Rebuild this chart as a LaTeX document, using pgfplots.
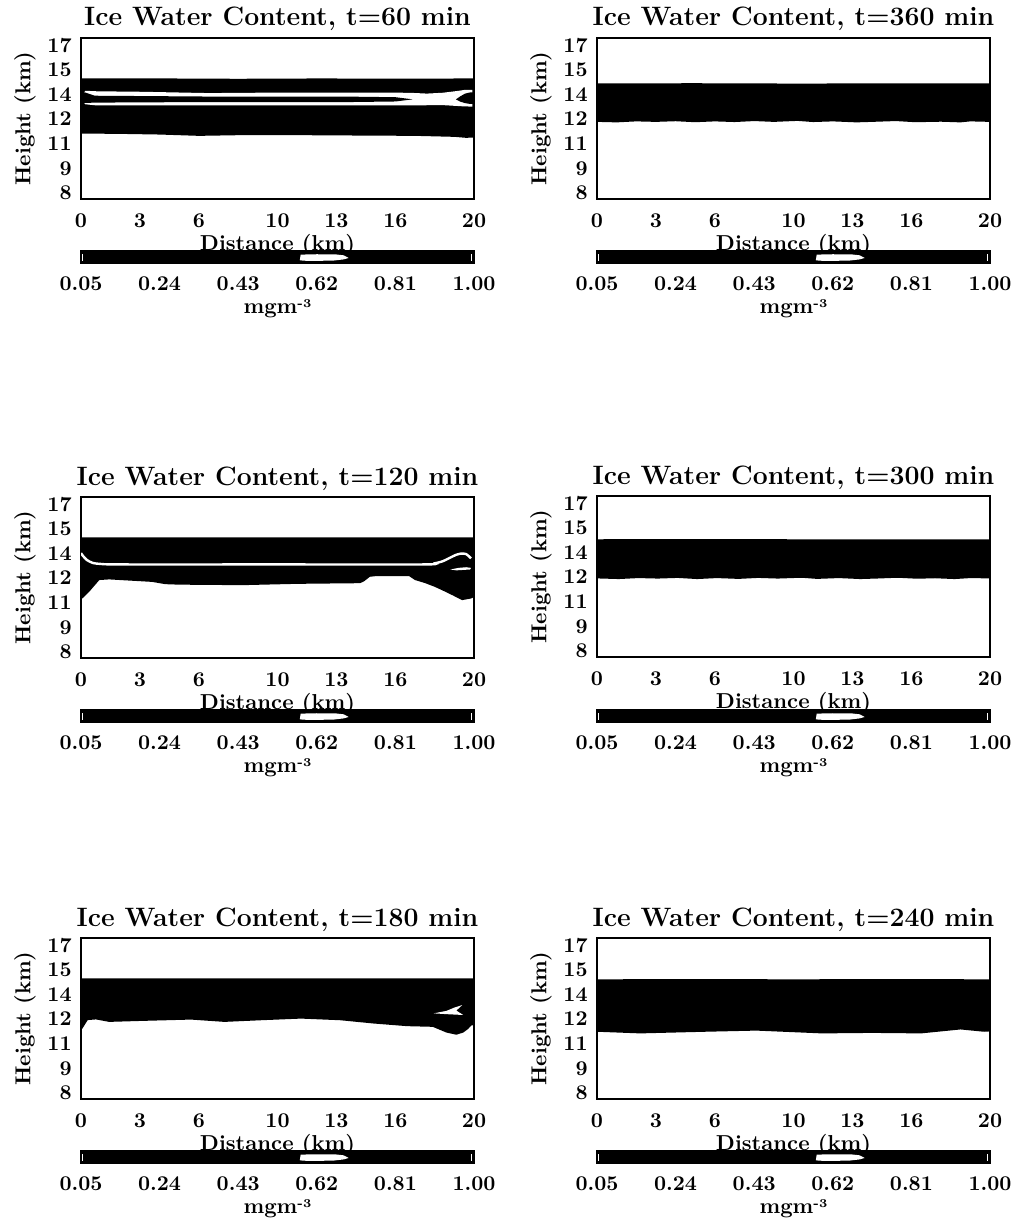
\documentclass[border=0pt]{standalone}
\usepackage{pgfplots}
\pgfplotsset{compat=1.18}

\pgfplotsset{
  iwc/.style={
    scale only axis, width=196.5pt, height=80.5pt, anchor=north west,
    xmin=0, xmax=20, ymin=7.64, ymax=17.43,
    xtick={0,3,6,10,13,16,20},
    xticklabels={\textbf{0},\textbf{3},\textbf{6},\textbf{10},\textbf{13},\textbf{16},\textbf{20}},
    ytick={8,9.5,11,12.5,14,15.5,17},
    yticklabels={\textbf{8},\textbf{9},\textbf{11},\textbf{12},\textbf{14},\textbf{15},\textbf{17}},
    major tick length=0pt,
    axis line style={line width=0.9pt},
    tick label style={font=\fontsize{10.5}{12}\selectfont\bfseries},
    xticklabel style={anchor=base, yshift=-14pt, inner sep=1pt},
    yticklabel style={anchor=east, xshift=-4.5pt, inner sep=0pt},
    xlabel={Distance (km)}, ylabel={Height (km)},
    every axis x label/.style={at={(axis description cs:0.5,-0.3168)}, anchor=base,
      inner sep=0.5pt, font=\fontsize{10.8}{13}\selectfont\bfseries},
    every axis y label/.style={at={(axis description cs:-0.1425,0.5)}, rotate=90, anchor=center,
      font=\fontsize{10.8}{13}\selectfont\bfseries},
    every axis title/.style={at={(0.5,1)}, anchor=base, yshift=6pt,
      font=\fontsize{13.3}{16}\selectfont\bfseries},
  },
  cbar/.style={
    scale only axis, width=196.5pt, height=6pt, anchor=north west,
    xmin=0.05, xmax=1, ymin=0, ymax=1, ytick=\empty,
    xtick={0.05,0.24,0.43,0.62,0.81,1.00},
    xticklabels={\textbf{0.05},\textbf{0.24},\textbf{0.43},\textbf{0.62},\textbf{0.81},\textbf{1.00}},
    major tick length=0pt,
    axis line style={line width=0.9pt},
    tick label style={font=\fontsize{10.5}{12}\selectfont\bfseries},
    xticklabel style={anchor=base, yshift=-13.5pt, inner sep=0.5pt},
    xlabel={mgm\raisebox{0.55ex}{\fontsize{6}{7}\selectfont\bfseries -3}},
    every axis x label/.style={at={(axis description cs:0.5,-4.17)}, anchor=base,
      inner sep=0.5pt, font=\fontsize{10.8}{13}\selectfont\bfseries},
  },
}

% colour scale drawn under each panel
\newcommand\cbar[2]{%
  \begin{axis}[cbar, at={(#1,#2)}]
    \addplot[fill=black, draw=none] coordinates {(0.05,0) (1,0) (1,1) (0.05,1)} -- cycle;
    \addplot[fill=white, draw=none] coordinates {(0.579,0.22) (0.581,0.7) (0.62,0.73) (0.665,0.72)
      (0.685,0.64) (0.697,0.42) (0.685,0.3) (0.66,0.2) (0.6,0.17)} -- cycle;
    \addplot[fill=white, draw=none] coordinates {(0.052,0.15) (0.056,0.15) (0.056,0.75) (0.052,0.75)} -- cycle;
    \addplot[fill=white, draw=none] coordinates {(0.992,0.15) (0.996,0.15) (0.996,0.75) (0.992,0.75)} -- cycle;
  \end{axis}}

\begin{document}
\begin{tikzpicture}
\path[use as bounding box] (0,0) rectangle (508.5pt,-610pt);

% ---------- t = 60 min ----------
\begin{axis}[iwc, at={(40.5pt,-19pt)}, title={Ice Water Content, t=60 min}]
  \addplot[fill=black, draw=none] coordinates {
    (0,14.97) (3,14.98) (6,14.96) (8,14.95) (12,14.97) (16,14.96) (20,14.97)
    (20,11.38) (19.6,11.36) (19,11.42) (17,11.48) (14,11.5) (10,11.53) (8,11.52)
    (6,11.48) (4,11.56) (2,11.6) (0,11.62)} -- cycle;
  \addplot[fill=white, draw=none] coordinates {
    (0.22,14.22) (0.8,14.19) (3.1,14.16) (6.5,14.08) (9.9,14.11) (13.3,14.11) (16.7,14.1)
    (17.6,14.05) (18.4,14.1) (19.1,14.2) (19.5,14.27) (19.92,14.28) (19.92,13.26)
    (19.5,13.27) (19.1,13.3) (18.4,13.35) (17.5,13.34) (16.7,13.33) (13.3,13.34)
    (9.9,13.33) (6.5,13.33) (3.1,13.33) (0.8,13.33) (0.22,13.4) (0.15,13.5) (0.15,14.1)} -- cycle;
  \addplot[fill=black, draw=none] coordinates {
    (0,14.15) (0.2,14.12) (0.7,13.92) (3.1,13.9) (6.5,13.87) (9.9,13.86) (13.3,13.87)
    (16,13.83) (16.88,13.7) (16,13.57) (13.3,13.53) (9.9,13.53) (6.5,13.53) (3.1,13.52)
    (0.8,13.5) (0,13.48)} -- cycle;
  \addplot[fill=black, draw=none] coordinates {
    (19.08,13.7) (19.3,13.88) (19.55,14.05) (19.8,14.12) (20,14.12) (20,13.42)
    (19.8,13.42) (19.55,13.47) (19.3,13.56)} -- cycle;
\end{axis}
\cbar{40.5pt}{-125.5pt}

% ---------- t = 360 min ----------
\begin{axis}[iwc, at={(298.5pt,-19pt)}, title={Ice Water Content, t=360 min}]
  \addplot[fill=black, draw=none] coordinates {
    (0,14.67) (5,14.68) (10,14.66) (15,14.67) (20,14.67)
    (20,12.33) (19,12.36) (18.5,12.3) (17.5,12.34) (16.2,12.31) (15.2,12.38) (14,12.33)
    (13.2,12.3) (12,12.36) (11,12.32) (10.2,12.39) (9,12.33) (8,12.38) (7,12.32)
    (6,12.36) (5,12.31) (4,12.37) (3,12.33) (2,12.36) (1,12.3) (0,12.33)} -- cycle;
\end{axis}
\cbar{298.5pt}{-125.5pt}

% ---------- t = 120 min ----------
\begin{axis}[iwc, at={(40.5pt,-248.5pt)}, title={Ice Water Content, t=120 min}]
  \addplot[fill=black, draw=none] coordinates {
    (0,14.98) (5,14.98) (10,14.97) (15,14.98) (20,14.98)
    (20,11.35) (19.85,11.26) (19.4,11.16) (18.9,11.46) (18.4,11.75) (18.0,11.97)
    (17.5,12.2) (17.0,12.38) (16.7,12.62) (15.0,12.62) (14.7,12.58) (14.4,12.3)
    (14.2,12.19) (11,12.15) (8.2,12.07) (5,12.1) (4.3,12.13) (3.6,12.27) (1.43,12.42)
    (0.93,12.38) (0.42,11.67) (0.08,11.27) (0,11.25)} -- cycle;
  \addplot[white, line width=1.2pt, smooth, tension=0.4] coordinates {
    (0.0,14.02) (0.1,13.85) (0.3,13.6) (0.6,13.42) (1.0,13.36) (2,13.33) (10,13.33)
    (17.5,13.33) (18.0,13.4) (18.4,13.52) (18.8,13.75) (19.1,13.92) (19.35,13.99)
    (19.6,13.96) (19.85,13.7)};
  \addplot[fill=white, draw=none] coordinates {
    (18.8,13.02) (19.2,13.12) (19.6,13.16) (19.85,13.12) (19.8,13.02) (19.5,13.0)
    (19.1,12.97)} -- cycle;
\end{axis}
\cbar{40.5pt}{-355pt}

% ---------- t = 300 min ----------
\begin{axis}[iwc, at={(298.5pt,-248pt)}, title={Ice Water Content, t=300 min}]
  \addplot[fill=black, draw=none] coordinates {
    (0,14.8) (5,14.81) (10,14.8) (15,14.8) (20,14.8)
    (20,12.42) (19,12.44) (18.2,12.38) (17.2,12.43) (16.3,12.4) (15.3,12.46) (14.2,12.41)
    (13.4,12.38) (12.3,12.44) (11.2,12.39) (10.4,12.46) (9.2,12.41) (8.2,12.45) (7.2,12.39)
    (6.1,12.44) (5.1,12.38) (4.1,12.45) (3.1,12.41) (2.1,12.44) (1.1,12.38) (0,12.42)} -- cycle;
\end{axis}
\cbar{298.5pt}{-355pt}

% ---------- t = 180 min ----------
\begin{axis}[iwc, at={(40.5pt,-469pt)}, title={Ice Water Content, t=180 min}]
  \addplot[fill=black, draw=none] coordinates {
    (0,14.98) (5,14.98) (10,14.97) (15,14.98) (20,14.98)
    (20,12.15) (19.85,12.1) (19.7,11.9) (19.45,11.68) (19.1,11.55) (18.6,11.68)
    (17.9,12.03) (16.6,12.07) (14.9,12.23) (13.2,12.43) (11.2,12.53) (9.16,12.43)
    (7.3,12.33) (5.6,12.47) (3.1,12.39) (1.43,12.33) (0.76,12.48) (0.34,12.44)
    (0.08,11.94) (0,11.85)} -- cycle;
  \addplot[fill=white, draw=none] coordinates {
    (17.95,12.85) (18.6,13.0) (19.0,13.2) (19.4,13.35) (19.1,13.02) (19.45,12.75)
    (18.6,12.8)} -- cycle;
\end{axis}
\cbar{40.5pt}{-575.5pt}

% ---------- t = 240 min ----------
\begin{axis}[iwc, at={(298.5pt,-469pt)}, title={Ice Water Content, t=240 min}]
  \addplot[fill=black, draw=none] coordinates {
    (0,14.92) (5,14.93) (10,14.92) (15,14.93) (20,14.92)
    (20,11.75) (19.7,11.73) (18.5,11.87) (16.5,11.63) (14,11.66) (11.45,11.63)
    (8.1,11.8) (5.5,11.73) (2.2,11.63) (0,11.73)} -- cycle;
\end{axis}
\cbar{298.5pt}{-575.5pt}

\end{tikzpicture}
\end{document}
